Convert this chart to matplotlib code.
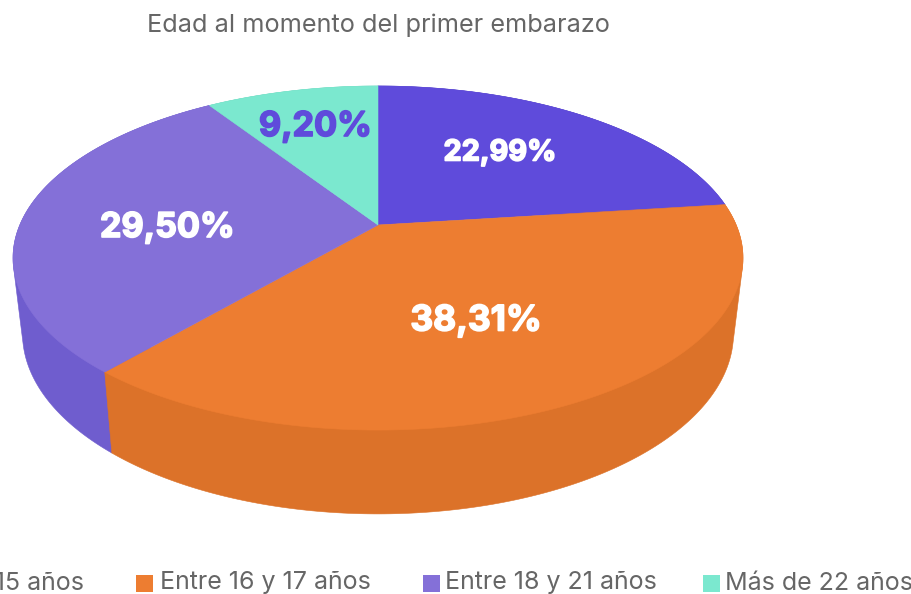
import numpy as np
import matplotlib
matplotlib.use('Agg')
import matplotlib.pyplot as plt
import matplotlib.patheffects as pe
from matplotlib.patches import Polygon, Rectangle

title = 'Edad al momento del primer embarazo'
categories = ['Menos de 15 años', 'Entre 16 y 17 años', 'Entre 18 y 21 años', 'Más de 22 años']
# slices clockwise from 12 o'clock
values = [22.99, 38.31, 29.50, 9.20]
value_labels = ['22,99%', '38,31%', '29,50%', '9,20%']
top_colors = ['#5F4BDB', '#ED7D31', '#8470D8', '#7BE8CF']
side_colors = ['#4F3DBE', '#DC7229', '#6F5DCE', '#66CDB5']
label_colors = ['white', 'white', 'white', '#5F4BDB']
label_xy = [(500, 153), (476, 321), (167.5, 228), (315.5, 127)]
label_sizes = [20.8, 25.4, 24.6, 24.6]
legend_x = [None, 136, 423, 703]
legend_text_x = [None, 160, 445, 725]

plt.rcParams['font.family'] = ['Inter', 'DejaVu Sans']

fig = plt.figure(figsize=(9.12, 5.94), dpi=100)
ax = fig.add_axes([0, 0, 1, 1])
ax.set_xlim(0, 912)
ax.set_ylim(594, 0)
ax.set_axis_off()

cx, cy = 378, 225
R, S, k = 358.2, 165.7, 0.192


def top_rim(t):
    w = 1 + k * np.cos(t)
    return cx + R * np.sin(t) / w, cy - S * np.cos(t) / w


def bottom_rim(t):
    x, y = top_rim(t)
    return cx + (x - cx) * 0.974, 298.6 + (y - cy) * 1.05


def hull(pts):
    # monotone chain, keeps the side outline tangent between the two rims
    pts = sorted(set(map(tuple, pts)))

    def half(seq):
        out = []
        for p in seq:
            while len(out) > 1 and (out[-1][0] - out[-2][0]) * (p[1] - out[-2][1]) - (out[-1][1] - out[-2][1]) * (p[0] - out[-2][0]) <= 0:
                out.pop()
            out.append(p)
        return out[:-1]

    return half(pts) + half(pts[::-1])


edges = np.radians(np.concatenate([[0], np.cumsum(values)]) * 3.6)

# sides first, back to front, then the top faces hide whatever is not visible
for i in [0, 3, 2, 1]:
    t = np.linspace(edges[i], edges[i + 1], 200)
    xt, yt = top_rim(t)
    xb, yb = bottom_rim(t)
    pts = np.column_stack([np.r_[xt, xb], np.r_[yt, yb]])
    ax.add_patch(Polygon(hull(pts), closed=True, fc=side_colors[i], ec=side_colors[i], lw=0.4))

for i in range(len(values)):
    t = np.linspace(edges[i], edges[i + 1], 200)
    xt, yt = top_rim(t)
    pts = np.column_stack([np.r_[cx, xt], np.r_[cy, yt]])
    ax.add_patch(Polygon(pts, closed=True, fc=top_colors[i], ec=top_colors[i], lw=0.4))

for i, lab in enumerate(value_labels):
    txt = ax.text(label_xy[i][0], label_xy[i][1], lab, color=label_colors[i], fontsize=label_sizes[i],
                  fontweight='bold', ha='center', va='center')
    txt.set_path_effects([pe.withStroke(linewidth=1.2, foreground=label_colors[i])])

ax.text(378, 25, title, color='#666666', fontsize=18.2, ha='center', va='center')

# legend runs off the left edge in the original
ax.text(84, 583, categories[0], color='#666666', fontsize=18, ha='right', va='center')
for i in range(1, 4):
    ax.add_patch(Rectangle((legend_x[i], 575), 17, 17, fc=top_colors[i], ec='none'))
    ax.text(legend_text_x[i], 583, categories[i], color='#666666', fontsize=18, ha='left', va='center')

fig.savefig('out.png', dpi=100, facecolor='white')
